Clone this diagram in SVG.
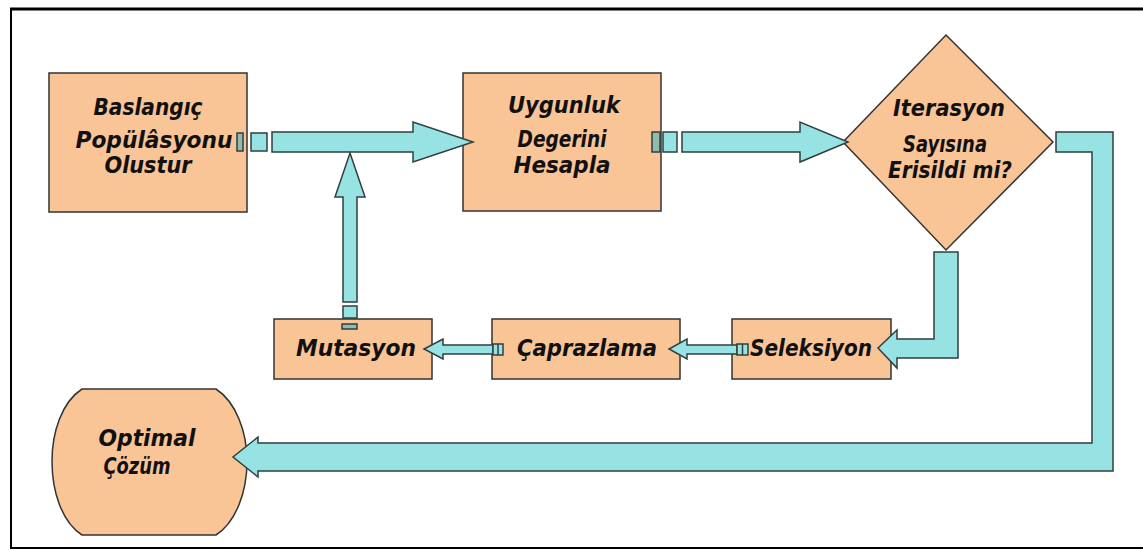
<svg xmlns="http://www.w3.org/2000/svg" width="1143" height="550" viewBox="0 0 1143 550">
<style>
.node{fill:#FAC596;stroke:#333;stroke-width:1.5}
.lbl{font-family:"DejaVu Sans",sans-serif;font-weight:bold;font-style:italic;font-size:23px;fill:#111;text-anchor:middle}
.arr{fill:#97E2E2;stroke:#2f3f3f;stroke-width:1.5;stroke-linejoin:miter}
.tab{fill:#97E2E2;stroke:#2f3f3f;stroke-width:1.5}
.tab2{fill:#8fbcae;stroke:#2f3f3f;stroke-width:1.5}
.frame{stroke:#000;fill:none}
</style>
<rect x="0" y="0" width="1143" height="550" fill="#fff"/>
<g id="frame">
<line class="frame" x1="10" y1="9" x2="1143" y2="9" stroke-width="3"/>
<line class="frame" x1="11" y1="8" x2="11" y2="549" stroke-width="2"/>
<line class="frame" x1="10" y1="548" x2="1143" y2="548" stroke-width="2"/>
</g>
<g id="n-baslangic">
<rect class="node" x="49" y="73" width="198" height="139"/>
<text class="lbl" x="148" y="115" textLength="109" lengthAdjust="spacingAndGlyphs">Baslangıç</text>
<text class="lbl" x="154" y="148" textLength="157" lengthAdjust="spacingAndGlyphs">Popülâsyonu</text>
<text class="lbl" x="148" y="173" textLength="87" lengthAdjust="spacingAndGlyphs">Olustur</text>
</g>
<g id="n-uygunluk">
<rect class="node" x="463" y="73" width="198" height="138"/>
<text class="lbl" x="564" y="113" textLength="112" lengthAdjust="spacingAndGlyphs">Uygunluk</text>
<text class="lbl" x="562" y="147" textLength="89" lengthAdjust="spacingAndGlyphs">Degerini</text>
<text class="lbl" x="562" y="173" textLength="97" lengthAdjust="spacingAndGlyphs">Hesapla</text>
</g>
<g id="n-iterasyon">
<polygon class="node" points="946,35 1053,142 946,250 843,142"/>
<text class="lbl" x="949" y="116" textLength="112" lengthAdjust="spacingAndGlyphs">Iterasyon</text>
<text class="lbl" x="945" y="152" textLength="84" lengthAdjust="spacingAndGlyphs">Sayısına</text>
<text class="lbl" x="950" y="178" textLength="124" lengthAdjust="spacingAndGlyphs">Erisildi mi?</text>
</g>
<g id="n-mutasyon">
<rect class="node" x="274" y="319" width="158" height="60"/>
<text class="lbl" x="356" y="356" textLength="120" lengthAdjust="spacingAndGlyphs">Mutasyon</text>
</g>
<g id="n-caprazlama">
<rect class="node" x="492" y="319" width="188" height="60"/>
<text class="lbl" x="587" y="356" textLength="140" lengthAdjust="spacingAndGlyphs">Çaprazlama</text>
</g>
<g id="n-seleksiyon">
<rect class="node" x="732" y="319" width="159" height="60"/>
<text class="lbl" x="811" y="356" textLength="122" lengthAdjust="spacingAndGlyphs">Seleksiyon</text>
</g>
<g id="n-optimal">
<path class="node" d="M82,389 H216 C236,402 247,432 247,461 C247,492 236,522 216,535 H82 C62,522 52,492 52,461 C52,432 62,402 82,389 Z"/>
<text class="lbl" x="147" y="446" textLength="97" lengthAdjust="spacingAndGlyphs">Optimal</text>
<text class="lbl" x="137" y="474" textLength="67" lengthAdjust="spacingAndGlyphs">Çözüm</text>
</g>
<g id="connectors">
<rect class="tab2" x="237" y="133" width="6" height="18"/>
<rect class="tab" x="251" y="133" width="16" height="18"/>
<polygon class="arr" points="272,132 413,132 413,122 473,142 413,162 413,152 272,152"/>
<rect class="tab2" x="652" y="132" width="8" height="20"/>
<rect class="tab" x="663" y="132" width="14" height="20"/>
<polygon class="arr" points="682,132 800,132 800,122 848,142 800,162 800,152 682,152"/>
<polygon class="arr" points="1056,132 1113,132 1113,471 258,471 258,477 233,457 258,437 258,443 1092,443 1092,152 1056,152"/>
<polygon class="arr" points="934,252 958,252 958,358 897,358 897,368 878,348 897,330 897,339 934,339"/>
<polygon class="arr" points="737,345 687,345 687,339 669,349 687,359 687,354 737,354"/>
<rect class="tab" x="737" y="344" width="11" height="11"/>
<line x1="742.5" y1="344" x2="742.5" y2="355" stroke="#2f3f3f" stroke-width="1.5"/>
<polygon class="arr" points="493,345 443,345 443,339 424,349 443,359 443,354 493,354"/>
<rect class="tab" x="493" y="344" width="10" height="11"/>
<line x1="498" y1="344" x2="498" y2="355" stroke="#2f3f3f" stroke-width="1.5"/>
<polygon class="arr" points="343,302 343,197 335,197 350,153 365,197 357,197 357,302"/>
<rect class="tab" x="343" y="306" width="14" height="12"/>
<rect class="tab2" x="342" y="324" width="15" height="5"/>
</g>
</svg>
